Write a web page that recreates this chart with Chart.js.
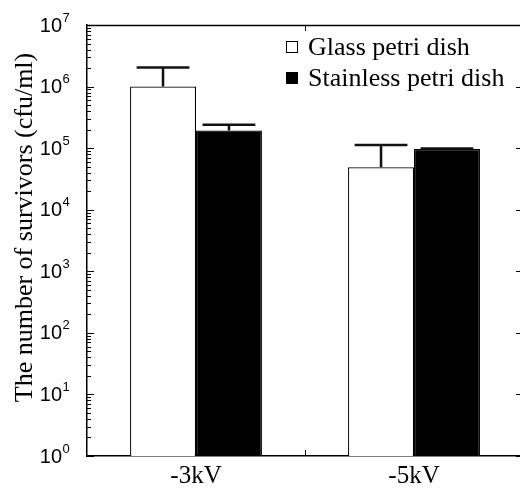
<!DOCTYPE html>
<html>
<head>
<meta charset="utf-8">
<script src="https://cdn.jsdelivr.net/npm/chart.js@4.4.0/dist/chart.umd.min.js"></script>
<style>
  html, body { margin: 0; padding: 0; background: #fff; overflow: hidden; }
  #wrap { width: 520px; height: 490px; overflow: hidden; }
</style>
</head>
<body>
<div id="wrap"><canvas id="c" width="530" height="490"></canvas></div>
<script>
// ---- data ----
const categories = ['-3kV', '-5kV'];
const seriesNames = ['Glass petri dish', 'Stainless petri dish'];
const glassValues = [1.0e6, 4.9e4];
const glassUpper = [2.05e6, 1.12e5];
const stainlessValues = [1.93e5, 9.7e4];
const stainlessUpper = [2.39e5, 9.9e4];
const yTickValues = [1, 10, 100, 1000, 10000, 100000, 1000000, 10000000];
const yTickExponents = ['0', '1', '2', '3', '4', '5', '6', '7'];
const yTitle = 'The number of survivors (cfu/ml)';

const SERIF = '"Liberation Serif", "Times New Roman", serif';
const SANS = '"Liberation Sans", Arial, sans-serif';

const frame = {
  id: 'frame',
  afterDraw(chart) {
    const ctx = chart.ctx;
    const a = chart.chartArea;
    const y = chart.scales.y;
    const x = chart.scales.x;
    ctx.save();
    ctx.strokeStyle = '#000';
    ctx.lineWidth = 1.5;
    // top and right border
    ctx.beginPath();
    ctx.moveTo(a.left, a.top + 0.5);
    ctx.lineTo(a.right, a.top + 0.5);
    ctx.moveTo(a.right, a.top);
    ctx.lineTo(a.right, a.bottom);
    ctx.stroke();
    // y ticks
    ctx.lineWidth = 1;
    ctx.beginPath();
    for (let n = 0; n < yTickValues.length; n++) {
      const py = Math.round(y.getPixelForValue(yTickValues[n])) + 0.5;
      ctx.moveTo(a.left, py); ctx.lineTo(a.left + 7, py);
      ctx.moveTo(a.right, py); ctx.lineTo(a.right - 7, py);
      if (n < yTickValues.length - 1) {
        for (let k = 2; k <= 9; k++) {
          const pm = Math.round(y.getPixelForValue(k * yTickValues[n])) + 0.5;
          ctx.moveTo(a.left, pm); ctx.lineTo(a.left + 4, pm);
        }
      }
    }
    // category boundary ticks
    const bx = Math.round((x.getPixelForValue(0) + x.getPixelForValue(1)) / 2) + 0.5;
    ctx.moveTo(bx, a.top); ctx.lineTo(bx, a.top + 6);
    ctx.moveTo(bx, a.bottom); ctx.lineTo(bx, a.bottom - 6);
    ctx.stroke();

    // y tick labels 10^n
    ctx.fillStyle = '#000';
    ctx.textBaseline = 'middle';
    for (let n = 0; n < yTickValues.length; n++) {
      const py = y.getPixelForValue(yTickValues[n]);
      ctx.font = '20px ' + SANS;
      ctx.textAlign = 'right';
      ctx.fillText('10', 62, py + 1);
      ctx.font = '13px ' + SANS;
      ctx.textAlign = 'left';
      ctx.fillText(yTickExponents[n], 62.5, py - 7);
    }
    // y title
    ctx.save();
    ctx.translate(25, (a.top + a.bottom) / 2 - 13);
    ctx.rotate(-Math.PI / 2);
    ctx.font = '26px ' + SERIF;
    ctx.textAlign = 'center';
    ctx.textBaseline = 'middle';
    ctx.fillText(yTitle, 0, 0);
    ctx.restore();

    // legend
    const ds = chart.data.datasets;
    const lx = 286;
    const rows = [47, 78];
    ds.forEach((d, i) => {
      const cy = rows[i];
      ctx.fillStyle = d.backgroundColor;
      ctx.fillRect(lx, cy - 6, 12, 12);
      ctx.strokeStyle = '#000';
      ctx.lineWidth = 1;
      ctx.strokeRect(lx + 0.5, cy - 5.5, 11, 11);
      ctx.fillStyle = '#000';
      ctx.font = '26px ' + SERIF;
      ctx.textAlign = 'left';
      ctx.textBaseline = 'alphabetic';
      ctx.fillText(d.label, 308, cy + 8);
    });
    ctx.restore();
  },
  afterDatasetsDraw(chart) {
    const ctx = chart.ctx;
    const y = chart.scales.y;
    const uppers = [glassUpper, stainlessUpper];
    ctx.save();
    ctx.strokeStyle = '#111';
    ctx.lineWidth = 2.5;
    chart.data.datasets.forEach((d, i) => {
      const meta = chart.getDatasetMeta(i);
      meta.data.forEach((bar, j) => {
        const top = y.getPixelForValue(d.data[j]);
        const up = y.getPixelForValue(uppers[i][j]);
        const cx = bar.x;
        const half = bar.width * 0.4;
        ctx.beginPath();
        ctx.moveTo(cx, top);
        ctx.lineTo(cx, up);
        ctx.moveTo(cx - half, up);
        ctx.lineTo(cx + half, up);
        ctx.stroke();
      });
    });
    ctx.restore();
  }
};

new Chart(document.getElementById('c'), {
  type: 'bar',
  data: {
    labels: categories,
    datasets: [
      { label: seriesNames[0], data: glassValues, backgroundColor: '#ffffff', borderColor: '#000', borderWidth: 1.2 },
      { label: seriesNames[1], data: stainlessValues, backgroundColor: '#000000', borderColor: '#000', borderWidth: 1.2 }
    ]
  },
  options: {
    responsive: false,
    animation: false,
    devicePixelRatio: 1,
    layout: { padding: { top: 25, right: 7, left: 0, bottom: 0 } },
    datasets: { bar: { barPercentage: 1.0, categoryPercentage: 0.605 } },
    plugins: { legend: { display: false }, tooltip: { enabled: false } },
    scales: {
      x: {
        grid: { display: false },
        border: { display: true, color: '#000', width: 1.5 },
        ticks: { color: '#000', font: { family: SERIF, size: 25 }, padding: -3, maxRotation: 0 },
        afterFit(s) { s.height = 34; }
      },
      y: {
        type: 'logarithmic',
        min: 1,
        max: 1e7,
        grid: { display: false },
        border: { display: true, color: '#000', width: 1.5 },
        ticks: { display: false },
        afterFit(s) { s.width = 87; }
      }
    }
  },
  plugins: [frame]
});
</script>
</body>
</html>
